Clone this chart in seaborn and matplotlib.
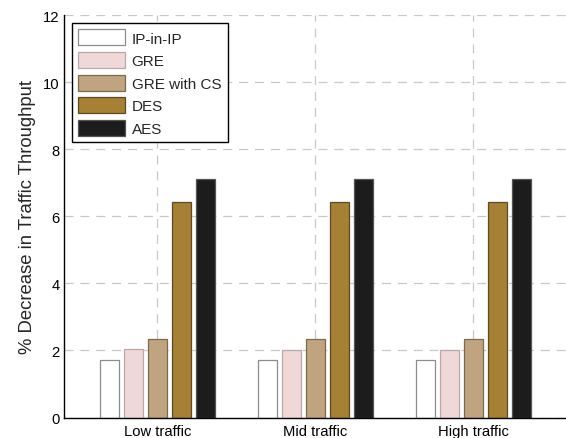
import matplotlib
matplotlib.use("Agg")
import matplotlib.pyplot as plt
import seaborn as sns
import pandas as pd

categories = ["Low traffic", "Mid traffic", "High traffic"]
schemes = ["IP-in-IP", "GRE", "GRE with CS", "DES", "AES"]
ip_in_ip = [1.70, 1.70, 1.70]
gre = [2.04, 2.00, 2.00]
gre_cs = [2.35, 2.35, 2.35]
des = [6.43, 6.43, 6.43]
aes = [7.10, 7.10, 7.10]
y_ticks = [0, 2, 4, 6, 8, 10, 12]

fill_colors = ["#ffffff", "#f0d8d8", "#c0a480", "#a68034", "#1c1c1c"]
edge_colors = ["#8c8c8c", "#b8a8a8", "#7a6a50", "#5e4a22", "#555555"]

series = [ip_in_ip, gre, gre_cs, des, aes]
rows = []
for name, vals in zip(schemes, series):
    for cat, v in zip(categories, vals):
        rows.append({"traffic": cat, "value": v, "scheme": name})
df = pd.DataFrame(rows)

sns.set_style("white")
plt.rcParams["font.family"] = ["Liberation Sans", "DejaVu Sans"]

fig = plt.figure(figsize=(5.66, 4.39), dpi=100)
ax = fig.add_axes([64 / 566, (439 - 418.5) / 439, 505.6 / 566, 402.5 / 439])

sns.barplot(data=df, x="traffic", y="value", hue="scheme", order=categories,
            hue_order=schemes, palette=fill_colors, width=0.76, gap=0.2,
            errorbar=None, ax=ax, linewidth=0.9, saturation=1, legend=True)

for cont, ec in zip(ax.containers, edge_colors):
    for p in cont.patches:
        p.set_edgecolor(ec)
        p.set_linewidth(0.9)

ax.set_xlim(-0.59, 2.61)
ax.set_ylim(0, 12)
ax.set_yticks(y_ticks)
ax.set_xlabel("")
ax.set_ylabel("% Decrease in Traffic Throughput", fontsize=13.3, labelpad=5)

ax.grid(True, axis="both", color="#c8c8c8", linestyle=(0, (7.2, 5.5)), linewidth=0.9)
ax.set_axisbelow(True)
for s in ["top", "right"]:
    ax.spines[s].set_visible(False)
for s in ["left", "bottom"]:
    ax.spines[s].set_color("black")
    ax.spines[s].set_linewidth(1.0)

ax.tick_params(axis="y", direction="in", length=3.5, width=0.8, labelsize=10.6, pad=3, colors="black")
ax.tick_params(axis="x", length=0, labelsize=10.6, pad=5, colors="black")

handles, labels = ax.get_legend_handles_labels()
for h, ec in zip(handles, edge_colors):
    h.set_edgecolor(ec)
leg = ax.legend(handles, labels, loc="upper left", bbox_to_anchor=(0.0152, 0.98),
                borderaxespad=0, fontsize=11, frameon=True, fancybox=False,
                handlelength=3.1, handleheight=1.23, labelspacing=0.42,
                handletextpad=0.4, borderpad=0.42, title=None)
leg.get_frame().set_edgecolor("black")
leg.get_frame().set_linewidth(1.0)
leg.get_frame().set_alpha(1)

fig.savefig("out.png", dpi=100)
